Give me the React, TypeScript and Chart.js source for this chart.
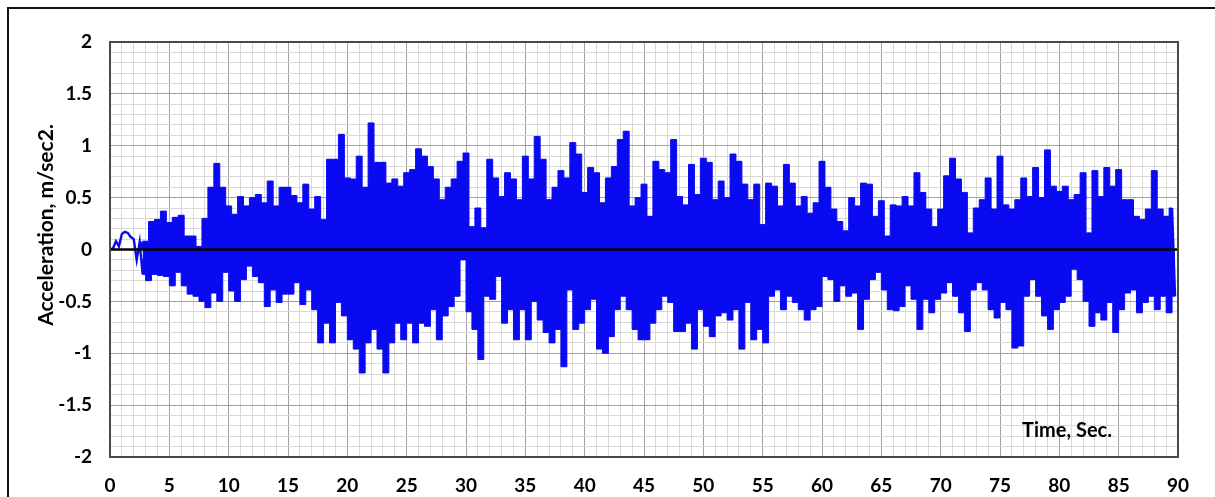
import React, { useEffect, useRef } from 'react';
import { Chart, registerables } from 'chart.js';

Chart.register(...registerables);

// Envelope of the acceleration record:
// one crest (start of each half second) and one trough (quarter second later).
const sampleStep = 0.5; // seconds between consecutive crests
const bandStartSecond = 2.5; // before this the record is a single thin trace

const crestValues = [
  0, 0.08, 0.15, 0.16, 0.10, 0.07, 0.08, 0.27, 0.29, 0.37,
  0.26, 0.31, 0.33, 0.13, 0.13, 0.03, 0.30, 0.60, 0.83, 0.60,
  0.42, 0.34, 0.51, 0.42, 0.50, 0.53, 0.45, 0.66, 0.42, 0.60,
  0.60, 0.52, 0.45, 0.63, 0.39, 0.51, 0.29, 0.87, 0.87, 1.11,
  0.69, 0.68, 0.90, 0.60, 1.22, 0.84, 0.84, 0.64, 0.68, 0.61,
  0.74, 0.77, 0.97, 0.90, 0.80, 0.68, 0.48, 0.60, 0.68, 0.85,
  0.93, 0.22, 0.40, 0.21, 0.87, 0.69, 0.51, 0.74, 0.68, 0.48,
  0.90, 0.68, 1.09, 0.87, 0.48, 0.60, 0.76, 0.69, 1.03, 0.92,
  0.55, 0.79, 0.74, 0.45, 0.69, 0.80, 1.06, 1.14, 0.42, 0.50,
  0.63, 0.32, 0.85, 0.77, 0.74, 1.06, 0.51, 0.43, 0.82, 0.53,
  0.88, 0.84, 0.48, 0.66, 0.50, 0.92, 0.85, 0.63, 0.48, 0.63,
  0.24, 0.64, 0.61, 0.42, 0.82, 0.64, 0.42, 0.51, 0.35, 0.45,
  0.85, 0.60, 0.39, 0.27, 0.18, 0.50, 0.42, 0.64, 0.63, 0.32,
  0.47, 0.13, 0.43, 0.42, 0.51, 0.42, 0.74, 0.55, 0.39, 0.22,
  0.39, 0.71, 0.88, 0.68, 0.55, 0.16, 0.40, 0.48, 0.69, 0.39,
  0.90, 0.43, 0.39, 0.48, 0.69, 0.51, 0.79, 0.50, 0.96, 0.61,
  0.56, 0.61, 0.48, 0.53, 0.74, 0.16, 0.76, 0.51, 0.79, 0.61,
  0.77, 0.48, 0.48, 0.32, 0.29, 0.39, 0.76, 0.39, 0.32, 0.40,
];

const troughValues = [
  0.01, 0.03, 0.17, 0.12, -0.10, -0.24, -0.30, -0.24, -0.25, -0.26,
  -0.35, -0.22, -0.35, -0.43, -0.45, -0.50, -0.56, -0.42, -0.50, -0.22,
  -0.40, -0.50, -0.29, -0.16, -0.26, -0.32, -0.55, -0.39, -0.51, -0.43,
  -0.43, -0.32, -0.53, -0.39, -0.58, -0.90, -0.71, -0.90, -0.51, -0.64,
  -0.87, -0.96, -1.19, -0.90, -0.77, -0.96, -1.19, -0.90, -0.71, -0.87,
  -0.71, -0.90, -0.71, -0.74, -0.58, -0.87, -0.64, -0.55, -0.45, -0.10,
  -0.60, -0.77, -1.06, -0.45, -0.48, -0.26, -0.71, -0.58, -0.87, -0.58,
  -0.87, -0.50, -0.68, -0.80, -0.90, -0.77, -1.13, -0.39, -0.77, -0.71,
  -0.58, -0.48, -0.96, -1.00, -0.84, -0.58, -0.45, -0.58, -0.77, -0.87,
  -0.87, -0.71, -0.58, -0.45, -0.51, -0.79, -0.79, -0.71, -0.96, -0.58,
  -0.74, -0.84, -0.64, -0.61, -0.68, -0.58, -0.96, -0.51, -0.87, -0.77,
  -0.90, -0.45, -0.39, -0.58, -0.45, -0.51, -0.58, -0.68, -0.58, -0.55,
  -0.26, -0.29, -0.50, -0.35, -0.45, -0.42, -0.77, -0.48, -0.29, -0.22,
  -0.39, -0.58, -0.59, -0.55, -0.35, -0.48, -0.77, -0.48, -0.61, -0.48,
  -0.42, -0.32, -0.45, -0.61, -0.79, -0.39, -0.32, -0.39, -0.58, -0.66,
  -0.51, -0.58, -0.95, -0.93, -0.45, -0.29, -0.45, -0.64, -0.77, -0.58,
  -0.51, -0.45, -0.19, -0.29, -0.50, -0.74, -0.61, -0.68, -0.51, -0.80,
  -0.58, -0.42, -0.39, -0.61, -0.51, -0.45, -0.58, -0.45, -0.61, -0.45,
];

const xTickLabels = ['0', '5', '10', '15', '20', '25', '30', '35', '40', '45', '50', '55', '60', '65', '70', '75', '80', '85', '90'];
const yTickLabels = ['-2', '-1.5', '-1', '-0.5', '0', '0.5', '1', '1.5', '2'];
const xAxisTitle = 'Time, Sec.';
const yAxisTitle = 'Acceleration, m/sec2.';

const W = 1215;
const H = 497;
const FONT = 'Lato';
const BLUE = '#0a0af2';

function isXMajor(v: number) {
  return xTickLabels.some((l) => Math.abs(Number(l) - v) < 1e-6);
}
function isYMajor(v: number) {
  return yTickLabels.some((l) => Math.abs(Number(l) - v) < 1e-6);
}

export default function App() {
  const ref = useRef<HTMLCanvasElement | null>(null);

  useEffect(() => {
    document.body.style.margin = '0';
    const canvas = ref.current;
    if (!canvas) return;

    const trace: { x: number; y: number }[] = [];
    const crestBand: { x: number; y: number }[] = [];
    const troughBand: { x: number; y: number }[] = [];
    for (let i = 0; i < crestValues.length; i++) {
      const tc = i * sampleStep;
      const tt = tc + sampleStep / 2;
      trace.push({ x: tc, y: crestValues[i] });
      trace.push({ x: tt, y: troughValues[i] });
      if (tc >= bandStartSecond) {
        crestBand.push({ x: tc, y: crestValues[i] });
        troughBand.push({ x: tt, y: troughValues[i] });
      }
    }

    const decor = {
      id: 'decor',
      beforeDraw(chart: any) {
        const c = chart.ctx;
        c.save();
        c.fillStyle = '#ffffff';
        c.fillRect(0, 0, chart.width, chart.height);
        c.restore();
      },
      afterDatasetsDraw(chart: any) {
        const c = chart.ctx;
        const a = chart.chartArea;
        const ys = chart.scales.y;
        const y0 = ys.getPixelForValue(0);
        c.save();
        c.strokeStyle = '#000000';
        c.lineWidth = 2.5;
        c.beginPath();
        c.moveTo(a.left, y0);
        c.lineTo(a.right, y0);
        c.stroke();
        c.strokeStyle = '#4a4a4a';
        c.lineWidth = 2;
        c.strokeRect(a.left, a.top, a.right - a.left, a.bottom - a.top);
        c.restore();
      },
      afterDraw(chart: any) {
        const c = chart.ctx;
        c.save();
        c.strokeStyle = '#111111';
        c.lineWidth = 2;
        c.strokeRect(8, 8, W + 20, H + 20);
        c.fillStyle = '#000000';
        c.font = `bold 20px ${FONT}`;
        c.textAlign = 'center';
        c.textBaseline = 'middle';
        c.fillText(xAxisTitle, 1067, 431);
        c.translate(46, 225);
        c.rotate(-Math.PI / 2);
        c.font = `bold 21px ${FONT}`;
        c.fillText(yAxisTitle, 0, 0);
        c.restore();
      },
    };

    const tickFont = { family: FONT, weight: 'bold', size: 19 };

    const chart = new Chart(canvas, {
      type: 'line',
      data: {
        datasets: [
          {
            data: crestBand,
            borderColor: BLUE,
            backgroundColor: BLUE,
            borderWidth: 1,
            pointRadius: 0,
            stepped: 'middle',
            fill: 'origin',
          },
          {
            data: troughBand,
            borderColor: BLUE,
            backgroundColor: BLUE,
            borderWidth: 1,
            pointRadius: 0,
            stepped: 'middle',
            fill: 'origin',
          },
          {
            data: trace,
            borderColor: BLUE,
            borderWidth: 2.4,
            pointRadius: 0,
            tension: 0,
            fill: false,
          },
        ],
      },
      options: {
        responsive: false,
        animation: false,
        events: [],
        parsing: false,
        layout: { padding: { top: 42, right: 37, bottom: 0, left: 0 } },
        plugins: { legend: { display: false }, tooltip: { enabled: false } },
        scales: {
          x: {
            type: 'linear',
            min: 0,
            max: 90,
            afterFit(scale: any) {
              scale.height = 40;
            },
            border: { display: false },
            grid: {
              drawTicks: false,
              color: (ctx: any) => (ctx.tick && isXMajor(ctx.tick.value) ? '#a3a3a3' : '#d9d9d9'),
              lineWidth: 1,
            },
            ticks: {
              stepSize: 1,
              autoSkip: false,
              maxRotation: 0,
              padding: 17,
              color: '#000000',
              font: tickFont,
              callback: (v: any) => {
                const l = xTickLabels.find((s) => Math.abs(Number(s) - Number(v)) < 1e-6);
                return l ?? '';
              },
            },
          },
          y: {
            type: 'linear',
            min: -2,
            max: 2,
            afterFit(scale: any) {
              scale.width = 110;
            },
            border: { display: false },
            grid: {
              drawTicks: false,
              color: (ctx: any) => (ctx.tick && isYMajor(ctx.tick.value) ? '#a3a3a3' : '#d9d9d9'),
              lineWidth: 1,
            },
            ticks: {
              stepSize: 0.1,
              autoSkip: false,
              padding: 18,
              color: '#000000',
              font: tickFont,
              callback: (v: any) => {
                const l = yTickLabels.find((s) => Math.abs(Number(s) - Number(v)) < 1e-6);
                return l ?? '';
              },
            },
          },
        },
      },
      plugins: [decor],
    } as any);

    return () => chart.destroy();
  }, []);

  return (
    <div style={{ width: W, height: H }}>
      <canvas ref={ref} width={W} height={H} style={{ display: 'block', width: W, height: H }} />
    </div>
  );
}
